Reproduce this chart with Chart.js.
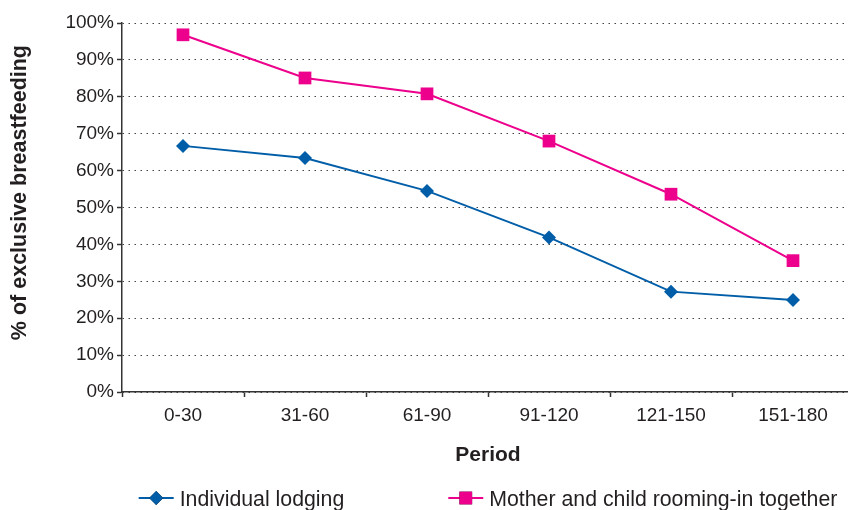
<!DOCTYPE html>
<html>
<head>
<meta charset="utf-8">
<script src="https://cdn.jsdelivr.net/npm/chart.js@4/dist/chart.umd.min.js"></script>
<style>
  html, body { margin: 0; padding: 0; background: #fff; overflow: hidden; }
  #c { display: block; }
</style>
</head>
<body>
<canvas id="c" width="848" height="510" style="width:848px;height:510px"></canvas>
<script>
const periods = ['0-30', '31-60', '61-90', '91-120', '121-150', '151-180'];
const individualLodging = [66.7, 63.4, 54.5, 41.9, 27.2, 24.9];
const roomingIn = [96.8, 85.1, 80.8, 68.0, 53.6, 35.6];
const seriesNames = ['Individual lodging', 'Mother and child rooming-in together'];
const yTicks = [0, 10, 20, 30, 40, 50, 60, 70, 80, 90, 100];

const FONT = "'Liberation Sans', Arial, Helvetica, sans-serif";
const TEXT = '#231f20';
const BLUE = '#005ea8';
const PINK = '#ec008c';

// The plot area of the original runs slightly past the right edge of the image.
const extendPlot = {
  id: 'extendPlot',
  afterLayout(chart, args, opts) {
    const xs = chart.scales.x;
    const ext = opts.rightEdge - chart.chartArea.right;
    chart.chartArea.right += ext;
    chart.chartArea.width += ext;
    xs.right += ext;
    xs.width += ext;
    xs.configure();
    xs._gridLineItems = null;
    xs._labelItems = null;
    chart.scales.y._gridLineItems = null;
  }
};

const legendPlugin = {
  id: 'lineLegend',
  afterDraw(chart, args, opts) {
    const ctx = chart.ctx;
    const area = chart.chartArea;
    ctx.save();
    ctx.font = opts.fontSize + 'px ' + FONT;
    ctx.textBaseline = 'alphabetic';
    const items = chart.data.datasets.map(ds => ({
      ds, w: opts.symbolWidth + opts.textGap + ctx.measureText(ds.label).width
    }));
    const total = items.reduce((s, it) => s + it.w, 0) + opts.itemGap * (items.length - 1);
    let x = (area.left + area.right) / 2 - total / 2;
    const y = opts.y;
    items.forEach(it => {
      const ds = it.ds;
      ctx.strokeStyle = ds.borderColor;
      ctx.lineWidth = ds.borderWidth;
      ctx.beginPath();
      ctx.moveTo(x, y);
      ctx.lineTo(x + opts.symbolWidth, y);
      ctx.stroke();
      Chart.helpers.drawPoint(ctx, {
        pointStyle: ds.pointStyle, radius: ds.pointRadius, borderWidth: 0, rotation: 0
      }, x + opts.symbolWidth / 2, y);
      ctx.fillStyle = ds.pointBackgroundColor;
      ctx.fill();
      ctx.fillStyle = TEXT;
      ctx.textAlign = 'left';
      ctx.fillText(ds.label, x + opts.symbolWidth + opts.textGap, y + 7.5);
      x += it.w + opts.itemGap;
    });
    ctx.restore();
  }
};

new Chart(document.getElementById('c'), {
  type: 'line',
  data: {
    labels: periods,
    datasets: [
      {
        label: seriesNames[0],
        data: individualLodging,
        borderColor: BLUE,
        backgroundColor: BLUE,
        pointBackgroundColor: BLUE,
        pointBorderColor: BLUE,
        borderWidth: 2,
        pointBorderWidth: 0,
        pointStyle: 'rectRot',
        pointRadius: 7,
        tension: 0
      },
      {
        label: seriesNames[1],
        data: roomingIn,
        borderColor: PINK,
        backgroundColor: PINK,
        pointBackgroundColor: PINK,
        pointBorderColor: PINK,
        borderWidth: 2,
        pointBorderWidth: 0,
        pointStyle: 'rect',
        pointRadius: 9,
        tension: 0
      }
    ]
  },
  options: {
    responsive: false,
    maintainAspectRatio: false,
    animation: false,
    devicePixelRatio: 1,
    layout: { padding: { top: 23, right: 0, left: 0, bottom: 41.7 } },
    plugins: {
      legend: { display: false },
      tooltip: { enabled: false },
      extendPlot: { rightEdge: 854 },
      lineLegend: { fontSize: 21.3, symbolWidth: 35, textGap: 6, itemGap: 104, y: 498 }
    },
    scales: {
      x: {
        type: 'category',
        offset: true,
        afterFit(scale) { scale.height = 76.3; },
        grid: {
          offset: true,
          drawOnChartArea: false,
          drawTicks: true,
          tickLength: 5,
          tickColor: '#333',
          tickWidth: 1.5,
          color: '#333'
        },
        border: { display: true, color: '#333', width: 1.5 },
        ticks: { color: TEXT, font: { family: FONT, size: 19 }, padding: 7, maxRotation: 0 },
        title: {
          display: true,
          text: 'Period',
          color: TEXT,
          font: { family: FONT, size: 21, weight: 'bold' },
          padding: { top: 0, bottom: 0 }
        }
      },
      y: {
        min: 0,
        max: 100,
        afterFit(scale) { scale.width = 122; },
        afterBuildTicks(scale) { scale.ticks = yTicks.map(v => ({ value: v })); },
        grid: {
          color: '#444',
          lineWidth: 1,
          drawTicks: true,
          tickLength: 5,
          tickColor: '#333',
          tickWidth: 1.5,
          tickBorderDash: []
        },
        border: { display: true, color: '#333', width: 1.5, dash: [1.5, 4.5] },
        ticks: {
          color: TEXT,
          font: { family: FONT, size: 19 },
          padding: 3,
          callback: v => v + '%'
        },
        title: {
          display: true,
          text: '     % of exclusive breastfeeding',
          color: TEXT,
          font: { family: FONT, size: 21.5, weight: 'bold' },
          padding: { top: 7.4, bottom: 0 }
        }
      }
    }
  },
  plugins: [extendPlot, legendPlugin]
});
</script>
</body>
</html>
